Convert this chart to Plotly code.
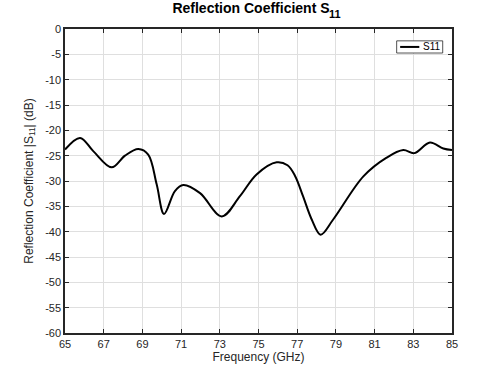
import plotly.graph_objects as go

freq = [65.0, 65.78, 66.46, 67.41, 68.1, 68.79, 69.3, 69.74, 70.12, 70.68, 71.11, 71.98,
        73.1, 74.04, 74.9, 75.94, 76.5, 76.89, 77.3, 77.75, 78.21, 78.86, 80.42, 81.62, 82.48,
        83.05, 83.86, 84.55, 85.0]
s11 = [-23.8, -21.5, -24.1, -27.3, -25.0, -23.7, -24.8, -30.7, -36.5, -32.0, -30.8, -32.4,
       -37.0, -33.0, -28.7, -26.3, -26.9, -29.0, -33.0, -37.6, -40.6, -37.6, -29.1, -25.4, -23.9,
       -24.5, -22.4, -23.6, -23.9]

xticks = list(range(65, 86, 2))
yticks = list(range(-60, 1, 5))

font = "Liberation Sans, Arial, sans-serif"
tickcol = "#262626"

fig = go.Figure()
fig.add_trace(go.Scatter(x=freq, y=s11, mode="lines", name="S11", showlegend=False,
                         line=dict(color="black", width=2, shape="spline", smoothing=1.0)))

axis_common = dict(showline=True, linecolor="#262626", linewidth=1.5, mirror="ticks",
                   ticks="inside", ticklen=4, tickcolor="#262626",
                   showgrid=True, gridcolor="#dfdfdf", gridwidth=1, zeroline=False,
                   tickfont=dict(family=font, size=11, color=tickcol))

# legend box (drawn in paper coords)
fig.add_shape(type="rect", xref="paper", yref="paper", x0=0.857, x1=0.976, y0=0.921, y1=0.961,
              line=dict(color="#262626", width=0.8), fillcolor="white", layer="above")
fig.add_shape(type="line", xref="paper", yref="paper", x0=0.866, x1=0.9155, y0=0.941, y1=0.941,
              line=dict(color="black", width=2), layer="above")
fig.add_annotation(text="S11", xref="paper", yref="paper", x=0.919, y=0.941,
                   xanchor="left", yanchor="middle", showarrow=False,
                   font=dict(family=font, size=10, color="black"))

# title subscript
fig.add_annotation(text="<b>11</b>", xref="paper", yref="paper", x=0.677, y=1.024,
                   xanchor="left", yanchor="bottom", showarrow=False,
                   font=dict(family=font, size=11, color="black"))

fig.update_layout(
    width=500, height=375,
    margin=dict(l=65, r=48, t=29, b=42),
    paper_bgcolor="white", plot_bgcolor="white",
    title=dict(text="<b>Reflection Coefficient S</b>", x=0.502, xanchor="center",
               y=0.979, yanchor="middle", font=dict(family=font, size=14, color="black")),
    xaxis=dict(range=[65, 85], tickvals=xticks, ticktext=[str(v) for v in xticks],
               title=dict(text="Frequency (GHz)", standoff=1,
                          font=dict(family=font, size=12, color=tickcol)),
               **axis_common),
    yaxis=dict(range=[-60, 0], tickvals=yticks, ticktext=[str(v) for v in yticks],
               title=dict(text="Reflection Coefficient |S<sub>11</sub>| (dB)", standoff=9,
                          font=dict(family=font, size=12, color=tickcol)),
               **axis_common),
    showlegend=False,
)

fig.write_html("out.html", config={"displayModeBar": False},
               post_script="document.body.style.margin='0px';")
